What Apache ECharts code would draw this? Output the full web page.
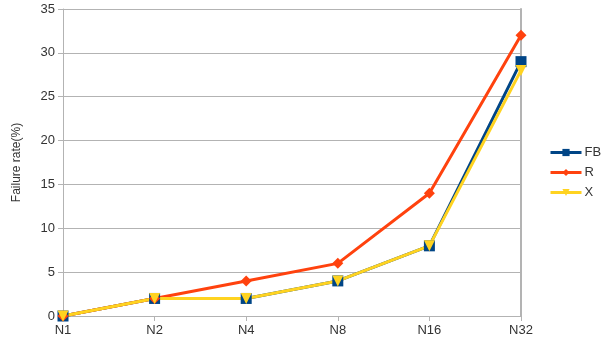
<!DOCTYPE html>
<html>
<head>
<meta charset="utf-8">
<script src="https://cdn.jsdelivr.net/npm/echarts@6/dist/echarts.min.js"></script>
<style>
  html, body { margin: 0; padding: 0; background: #fff; }
  #chart { width: 603px; height: 349px; }
</style>
</head>
<body>
<div id="chart"></div>
<script>
// Failure rate per node count
const categories = ['N1', 'N2', 'N4', 'N8', 'N16', 'N32'];
const fbValues = [0, 2, 2, 4, 8, 29];
const rValues = [0, 2, 4, 6, 14, 32];
const xValues = [0, 2, 2, 4, 8, 28];
const yTicks = { min: 0, max: 35, interval: 5 };

const font = 'Liberation Sans, Arial, sans-serif';
const axisGrey = '#b3b3b3';
const chart = echarts.init(document.getElementById('chart'));

function lineSeries(name, data, color, symbol, size) {
  return {
    name: name,
    type: 'line',
    data: data,
    symbol: symbol,
    symbolSize: size,
    lineStyle: { color: color, width: 3 },
    itemStyle: { color: color },
    animation: false
  };
}

chart.setOption({
  animation: false,
  grid: { left: 63, right: 82, top: 9, bottom: 33 },
  legend: {
    orient: 'vertical',
    left: 549,
    top: 146,
    padding: 0,
    itemWidth: 31,
    itemHeight: 9,
    itemGap: 7,
    lineStyle: { width: 3 },
    textStyle: { fontFamily: font, fontSize: 13, color: '#333', padding: [0, 0, 0, -2] },
    data: ['FB', 'R', 'X']
  },
  xAxis: {
    type: 'category',
    data: categories,
    boundaryGap: false,
    axisLine: { lineStyle: { color: axisGrey, width: 1 } },
    axisTick: { show: true, length: 5, lineStyle: { color: axisGrey } },
    axisLabel: { fontFamily: font, fontSize: 13, color: '#333', margin: 8 },
    splitLine: { show: false }
  },
  yAxis: [
    {
      type: 'value',
      min: yTicks.min,
      max: yTicks.max,
      interval: yTicks.interval,
      name: 'Failure rate(%)',
      nameLocation: 'middle',
      nameGap: 40,
      nameRotate: 90,
      nameTextStyle: { fontFamily: font, fontSize: 12, color: '#333' },
      axisLine: { show: true, lineStyle: { color: axisGrey, width: 1 } },
      axisTick: { show: true, length: 5, lineStyle: { color: axisGrey } },
      axisLabel: { fontFamily: font, fontSize: 13, color: '#333', margin: 8 },
      splitLine: { show: true, lineStyle: { color: axisGrey, width: 1 } }
    },
    {
      // right-hand frame edge of the plot area
      type: 'value',
      position: 'right',
      min: yTicks.min,
      max: yTicks.max,
      interval: yTicks.interval,
      axisLine: { show: true, lineStyle: { color: axisGrey, width: 2 } },
      axisTick: { show: false },
      axisLabel: { show: false },
      splitLine: { show: false }
    }
  ],
  series: [
    lineSeries('FB', fbValues, '#004586', 'rect', 11),
    lineSeries('R', rValues, '#ff420e', 'diamond', 11),
    lineSeries('X', xValues, '#ffd320', 'path://M0,0 L10,0 L5,10 Z', 11)
  ]
});
</script>
</body>
</html>
